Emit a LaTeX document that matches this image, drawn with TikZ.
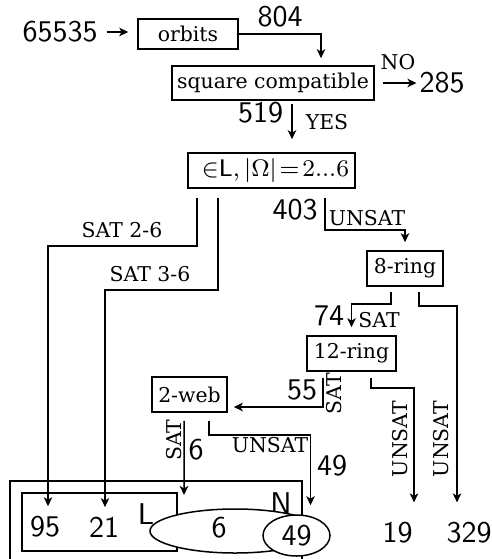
\documentclass[tikz,border=0pt]{standalone}
\usepackage{fontspec}
\newfontfamily\labserif{DejaVu Serif}
\usetikzlibrary{arrows.meta,shapes.geometric}
\begin{document}
\begin{tikzpicture}[x=0.33333pt,y=-0.33333pt,
  box/.style={draw, line width=0.5pt, font=\labserif\fontsize{6.8}{8}\selectfont, inner sep=0pt},
  num/.style={font=\sffamily, inner sep=0pt},
  lab/.style={font=\labserif\fontsize{6.8}{8}\selectfont, inner sep=0pt},
  ln/.style={line width=0.5pt},
  arr/.style={line width=0.5pt, -{Stealth[length=3pt,width=2.8pt,inset=0.8pt]}}]
\path[use as bounding box, clip] (0,0) rectangle (492,559);

% boxes
\node[box, minimum width=33.33pt, minimum height=10pt] (orbits) at (188,34) {orbits};
\node[box, minimum width=67.33pt, minimum height=11.33pt] (sq) at (273,83) {square compatible};
\node[box, minimum width=55.67pt, minimum height=11.67pt, font=\fontsize{8}{9.6}\selectfont] (eL) at (271.5,170.5) {\hspace{2.67pt}${\in}\mathsf{L},|\Omega|\!=\!2...6$};
\node[box, minimum width=25.33pt, minimum height=11.67pt] (ring8) at (405,268.5) {8-ring};
\node[box, minimum width=29.67pt, minimum height=11.67pt] (ring12) at (351.5,353.5) {12-ring};
\node[box, minimum width=25pt, minimum height=11.67pt] (web2) at (189.5,394.5) {2-web};

% numbers
\node[num] (n65535) at (60,32) {65535};
\node[num] (n804) at (280,17) {804};
\node[num] (n285) at (442,83) {285};
\node[num] (n519) at (260.5,112.5) {519};
\node[num] (n403) at (295,210) {403};
\node[num] (n74) at (329,316) {74};
\node[num] (n55) at (302,390) {55};
\node[num] (n6a) at (196,450) {6};
\node[num] (n49a) at (332,466) {49};
\node[num] (n19) at (397.5,532.5) {19};
\node[num] (n329) at (469,532.5) {329};

% sets
\draw[ln] (10,481) rectangle (302,620);
\draw[ln] (22,493) rectangle (177,551);
\node[num] (lN) at (281,503) {N};
\node[num] (lL) at (146,514) {L};
\node[num] (n95) at (45,527) {95};
\node[num] (n21) at (104,527.5) {21};
\node[draw, ellipse, fill=white, line width=0.5pt, minimum width=56.67pt, minimum height=14.67pt, inner sep=0pt] (ell6) at (235,531) {};
\node[num] (n6b) at (219,528) {6};
\node[draw, ellipse, fill=white, line width=0.5pt, minimum width=22.33pt, minimum height=13.67pt, inner sep=0pt, font=\sffamily] (n49) at (296.5,535.5) {49};
\coordinate (t6) at (184,495);

% labels
\node[lab] (lNO) at (398,62) {NO};
\node[lab] (lYES) at (327,122.5) {YES};
\node[lab] (lS26) at (122,230) {SAT 2-6};
\node[lab] (lS36) at (150,274) {SAT 3-6};
\node[lab] (lU1) at (367,218) {UNSAT};
\node[lab] (lS1) at (379,320) {SAT};
\node[lab, rotate=90] (lS2) at (334,394) {SAT};
\node[lab, rotate=90] (lS3) at (174,440) {SAT};
\node[lab] (lU2) at (270,445) {UNSAT};
\node[lab, rotate=90] (lU3) at (400,439) {UNSAT};
\node[lab, rotate=90] (lU4) at (441,439) {UNSAT};

% connectors
\draw[arr, shorten <=2.83pt, shorten >=3pt] (n65535.east) -- (n65535.east -| orbits.west);
\draw[arr, shorten >=2.33pt] (orbits.east) -| ([xshift=16pt]sq.north);
\draw[arr, shorten <=2.67pt, shorten >=0.8pt] (sq.east) -- (n285.west);
\draw[arr, shorten <=1pt, shorten >=4.33pt] ([xshift=6.33pt]sq.south) -- ([xshift=6.33pt]sq.south |- eL.north);
\draw[arr, shorten >=3.2pt] ([xshift=-24.83pt,yshift=-3pt]eL.south) -- ++(0,48) -| ([xshift=1pt]n95.north);
\draw[arr, shorten >=3.2pt] ([xshift=-17.83pt,yshift=-3pt]eL.south) -- ++(0,92) -| ([xshift=0.33pt]n21.north);
\draw[arr, shorten >=2.67pt] ([xshift=17.83pt,yshift=-3pt]eL.south) -- ++(0,32) -| (ring8.north);
\draw[arr, shorten >=2.67pt] ([xshift=-4.67pt,yshift=-1.67pt]ring8.south) -- ++(0,12) -| (ring12.north);
\draw[arr, shorten >=6.33pt] ([xshift=4.67pt,yshift=-1.67pt]ring8.south) -- ++(0,14) -| ([xshift=-4pt]n329.north);
\draw[arr, shorten >=6.33pt] ([xshift=6.5pt,yshift=-2pt]ring12.south) -- ++(0,10) -| ([xshift=5.5pt]n19.north);
\draw[arr, shorten >=2pt] ([xshift=-9.5pt,yshift=-2pt]ring12.south) |- ([yshift=-4.17pt]web2.east);
\draw[arr] ([xshift=-1.83pt,yshift=-2.67pt]web2.south) -- (t6);
\draw[arr, shorten >=3pt] ([xshift=6.5pt,yshift=-2.67pt]web2.south) -- ++(0,14) -| ([xshift=4.67pt]n49.north);
\end{tikzpicture}
\end{document}
